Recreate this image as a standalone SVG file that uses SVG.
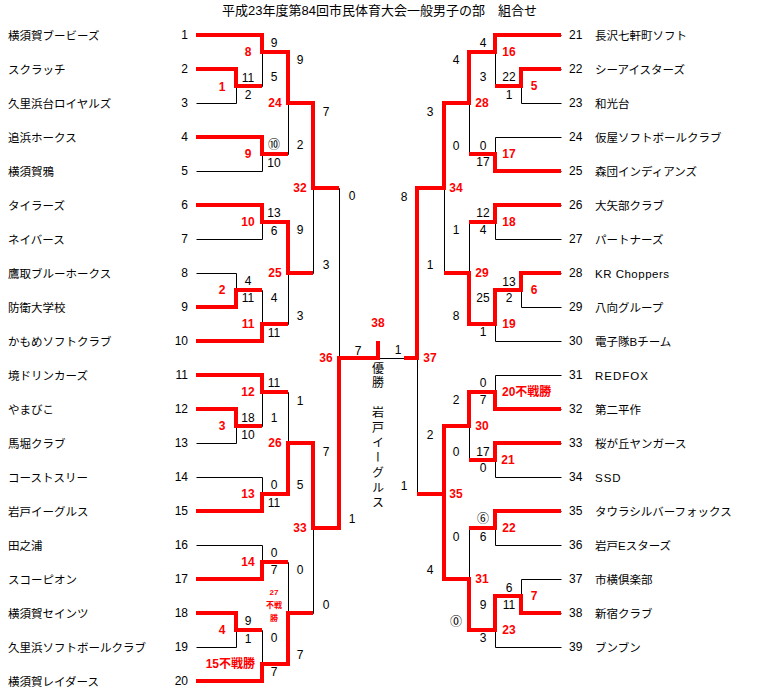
<svg xmlns="http://www.w3.org/2000/svg" width="757" height="699" viewBox="0 0 757 699">
<style>
.nm{font-family:"Liberation Sans","Noto Sans CJK JP",sans-serif;font-size:11.5px;fill:#000}
.nl{font-family:"Liberation Sans",sans-serif;font-size:12px;fill:#000;text-anchor:end}
.nr{font-family:"Liberation Sans",sans-serif;font-size:12px;fill:#000}
.s{font-family:"Liberation Sans","Noto Sans CJK JP",sans-serif;font-size:12px;fill:#000;text-anchor:middle}
.r{font-family:"Liberation Sans","Noto Sans CJK JP",sans-serif;font-size:12px;font-weight:bold;fill:#ff0000;text-anchor:middle}
.rs{font-family:"Liberation Sans","Noto Sans CJK JP",sans-serif;font-size:8px;font-weight:bold;fill:#ff0000;text-anchor:middle}
.b{stroke:#000;stroke-width:1;fill:none}
.w{stroke:#ff0000;stroke-width:4;fill:none;stroke-linejoin:miter}
.v{font-family:"Noto Sans CJK JP",sans-serif;font-size:12px;fill:#000;writing-mode:vertical-rl}
</style>
<rect width="757" height="699" fill="#fff"/>
<text x="222" y="15" style="font-family:'Liberation Sans','Noto Sans CJK JP',sans-serif;font-size:13px">平成23年度第84回市民体育大会一般男子の部　組合せ</text>

<g id="connectors">
<path class="b" transform="translate(0.5,0.5)" d="M196,35H262 M196,69H236 M196,103H236 M196,137H262 M196,171H262 M196,205H262 M196,239H262 M196,273H236 M196,307H236 M196,341H262 M196,375H262 M196,409H236 M196,443H236 M196,477H262 M196,511H262 M196,545H262 M196,579H262 M196,613H236 M196,647H236 M196,681H262
M236,69V103 M236,273V307 M236,409V443 M236,613V647
M236,86H262 M236,290H262 M236,426H262 M236,630H262
M262,35V86 M262,137V171 M262,205V239 M262,290V341 M262,375V426 M262,477V511 M262,545V579 M262,630V681
M262,52H288 M262,154H288 M262,222H288 M262,324H288 M262,392H288 M262,494H288 M262,562H288 M262,664H288
M288,52V154 M288,222V324 M288,392V494 M288,562V664
M288,103H313 M288,273H313 M288,443H313 M288,613H313
M313,103V273 M313,443V613
M313,188H339 M313,528H339
M339,188V528
M339,358H417
M495,35H561 M521,69H561 M521,103H561 M495,137H561 M495,171H561 M495,205H561 M495,239H561 M521,273H561 M521,307H561 M495,341H561 M495,375H561 M495,409H561 M495,443H561 M495,477H561 M495,511H561 M495,545H561 M521,579H561 M521,613H561 M495,647H561
M521,69V103 M521,273V307 M521,579V613
M495,86H521 M495,290H521 M495,596H521
M495,35V86 M495,137V171 M495,205V239 M495,290V341 M495,375V409 M495,443V477 M495,511V545 M495,596V647
M469,52H495 M469,154H495 M469,222H495 M469,324H495 M469,392H495 M469,460H495 M469,528H495 M469,630H495
M469,52V154 M469,222V324 M469,392V460 M469,528V630
M444,103H469 M444,273H469 M444,426H469 M444,579H469
M444,103V273 M444,426V579
M417,188H444 M417,494H444
M417,188V494"/>
<path class="w" d="M196,35H262V52H288V103H313V188H339"/>
<path class="w" d="M196,69H236V86H262"/>
<path class="w" d="M196,137H262V154H288"/>
<path class="w" d="M196,205H262V222H288V273H313"/>
<path class="w" d="M196,307H236V290H262"/>
<path class="w" d="M196,341H262V324H288"/>
<path class="w" d="M196,375H262V392H288"/>
<path class="w" d="M196,409H236V426H262"/>
<path class="w" d="M196,511H262V494H288V443H313V528H339V358H378V341"/>
<path class="w" d="M196,579H262V562H288"/>
<path class="w" d="M196,613H236V630H262"/>
<path class="w" d="M196,681H262V664H288V613H313"/>
<path class="w" d="M561,35H495V52H469V103H444V188H417V358H404"/>
<path class="w" d="M561,69H521V86H495"/>
<path class="w" d="M561,171H495V154H469"/>
<path class="w" d="M561,205H495V222H469"/>
<path class="w" d="M561,273H521V290H495V324H469V273H444"/>
<path class="w" d="M561,409H495V392H469V426H444V494"/>
<path class="w" d="M561,443H495V460H469"/>
<path class="w" d="M561,511H495V528H469"/>
<path class="w" d="M561,613H521V596H495V630H469V579H444V494H417"/>
</g>

<g id="team-1"><text class="nm" x="8" y="39.5">横須賀ブービーズ</text><text class="nl" x="188" y="39.3">1</text></g>
<g id="team-2"><text class="nm" x="8" y="73.5">スクラッチ</text><text class="nl" x="188" y="73.3">2</text></g>
<g id="team-3"><text class="nm" x="8" y="107.5">久里浜台ロイヤルズ</text><text class="nl" x="188" y="107.3">3</text></g>
<g id="team-4"><text class="nm" x="8" y="141.5">追浜ホークス</text><text class="nl" x="188" y="141.3">4</text></g>
<g id="team-5"><text class="nm" x="8" y="175.5">横須賀鴉</text><text class="nl" x="188" y="175.3">5</text></g>
<g id="team-6"><text class="nm" x="8" y="209.5">タイラーズ</text><text class="nl" x="188" y="209.3">6</text></g>
<g id="team-7"><text class="nm" x="8" y="243.5">ネイバース</text><text class="nl" x="188" y="243.3">7</text></g>
<g id="team-8"><text class="nm" x="8" y="277.5">鷹取ブルーホークス</text><text class="nl" x="188" y="277.3">8</text></g>
<g id="team-9"><text class="nm" x="8" y="311.5">防衛大学校</text><text class="nl" x="188" y="311.3">9</text></g>
<g id="team-10"><text class="nm" x="8" y="345.5">かもめソフトクラブ</text><text class="nl" x="188" y="345.3">10</text></g>
<g id="team-11"><text class="nm" x="8" y="379.5">境ドリンカーズ</text><text class="nl" x="188" y="379.3">11</text></g>
<g id="team-12"><text class="nm" x="8" y="413.5">やまびこ</text><text class="nl" x="188" y="413.3">12</text></g>
<g id="team-13"><text class="nm" x="8" y="447.5">馬堀クラブ</text><text class="nl" x="188" y="447.3">13</text></g>
<g id="team-14"><text class="nm" x="8" y="481.5">コーストスリー</text><text class="nl" x="188" y="481.3">14</text></g>
<g id="team-15"><text class="nm" x="8" y="515.5">岩戸イーグルス</text><text class="nl" x="188" y="515.3">15</text></g>
<g id="team-16"><text class="nm" x="8" y="549.5">田之浦</text><text class="nl" x="188" y="549.3">16</text></g>
<g id="team-17"><text class="nm" x="8" y="583.5">スコーピオン</text><text class="nl" x="188" y="583.3">17</text></g>
<g id="team-18"><text class="nm" x="8" y="617.5">横須賀セインツ</text><text class="nl" x="188" y="617.3">18</text></g>
<g id="team-19"><text class="nm" x="8" y="651.5">久里浜ソフトボールクラブ</text><text class="nl" x="188" y="651.3">19</text></g>
<g id="team-20"><text class="nm" x="8" y="685.5">横須賀レイダース</text><text class="nl" x="188" y="685.3">20</text></g>

<g id="team-21"><text class="nr" x="569" y="39.3">21</text><text class="nm" x="595" y="39.5">長沢七軒町ソフト</text></g>
<g id="team-22"><text class="nr" x="569" y="73.3">22</text><text class="nm" x="595" y="73.5">シーアイスターズ</text></g>
<g id="team-23"><text class="nr" x="569" y="107.3">23</text><text class="nm" x="595" y="107.5">和光台</text></g>
<g id="team-24"><text class="nr" x="569" y="141.3">24</text><text class="nm" x="595" y="141.5">仮屋ソフトボールクラブ</text></g>
<g id="team-25"><text class="nr" x="569" y="175.3">25</text><text class="nm" x="595" y="175.5">森団インディアンズ</text></g>
<g id="team-26"><text class="nr" x="569" y="209.3">26</text><text class="nm" x="595" y="209.5">大矢部クラブ</text></g>
<g id="team-27"><text class="nr" x="569" y="243.3">27</text><text class="nm" x="595" y="243.5">パートナーズ</text></g>
<g id="team-28"><text class="nr" x="569" y="277.3">28</text><text class="nm" x="595" y="277.5" style="letter-spacing:0.5px">KR Choppers</text></g>
<g id="team-29"><text class="nr" x="569" y="311.3">29</text><text class="nm" x="595" y="311.5">八向グループ</text></g>
<g id="team-30"><text class="nr" x="569" y="345.3">30</text><text class="nm" x="595" y="345.5">電子隊Bチーム</text></g>
<g id="team-31"><text class="nr" x="569" y="379.3">31</text><text class="nm" x="595" y="379.5" style="letter-spacing:1px">REDFOX</text></g>
<g id="team-32"><text class="nr" x="569" y="413.3">32</text><text class="nm" x="595" y="413.5">第二平作</text></g>
<g id="team-33"><text class="nr" x="569" y="447.3">33</text><text class="nm" x="595" y="447.5">桜が丘ヤンガース</text></g>
<g id="team-34"><text class="nr" x="569" y="481.3">34</text><text class="nm" x="595" y="481.5" style="letter-spacing:1px">SSD</text></g>
<g id="team-35"><text class="nr" x="569" y="515.3">35</text><text class="nm" x="595" y="515.5">タウラシルバーフォックス</text></g>
<g id="team-36"><text class="nr" x="569" y="549.3">36</text><text class="nm" x="595" y="549.5">岩戸Eスターズ</text></g>
<g id="team-37"><text class="nr" x="569" y="583.3">37</text><text class="nm" x="595" y="583.5">市横倶楽部</text></g>
<g id="team-38"><text class="nr" x="569" y="617.3">38</text><text class="nm" x="595" y="617.5">新宿クラブ</text></g>
<g id="team-39"><text class="nr" x="569" y="651.3">39</text><text class="nm" x="595" y="651.5">ブンブン</text></g>

<g id="scores">
<text class="s" x="274" y="47">9</text>
<text class="s" x="248" y="82">11</text>
<text class="s" x="274" y="81">5</text>
<text class="s" x="248" y="99">2</text>
<text class="s" x="300" y="64">9</text>
<text class="s" x="326" y="116">7</text>
<text class="s" x="274" y="149">⑩</text>
<text class="s" x="300" y="149">2</text>
<text class="s" x="274" y="167">10</text>
<text class="s" x="352" y="200">0</text>
<text class="s" x="274" y="217">13</text>
<text class="s" x="274" y="235">6</text>
<text class="s" x="300" y="234">9</text>
<text class="s" x="326" y="269">3</text>
<text class="s" x="248" y="285">4</text>
<text class="s" x="248" y="302">11</text>
<text class="s" x="274" y="302">4</text>
<text class="s" x="300" y="320">3</text>
<text class="s" x="274" y="337">11</text>
<text class="s" x="358" y="355">7</text>
<text class="s" x="274" y="387">11</text>
<text class="s" x="300" y="405">1</text>
<text class="s" x="248" y="422">18</text>
<text class="s" x="274" y="422">1</text>
<text class="s" x="248" y="439">10</text>
<text class="s" x="326" y="456">7</text>
<text class="s" x="274" y="489">0</text>
<text class="s" x="300" y="489">5</text>
<text class="s" x="274" y="507">11</text>
<text class="s" x="352" y="523">1</text>
<text class="s" x="274" y="557">0</text>
<text class="s" x="274" y="574">7</text>
<text class="s" x="300" y="574">0</text>
<text class="s" x="326" y="609">0</text>
<text class="s" x="248" y="625">9</text>
<text class="s" x="248" y="643">1</text>
<text class="s" x="274" y="642">0</text>
<text class="s" x="300" y="659">7</text>
<text class="s" x="274" y="676">7</text>

<text class="s" x="483" y="47">4</text>
<text class="s" x="483" y="81">3</text>
<text class="s" x="509" y="81">22</text>
<text class="s" x="509" y="99">1</text>
<text class="s" x="456" y="64">4</text>
<text class="s" x="430" y="116">3</text>
<text class="s" x="456" y="150">0</text>
<text class="s" x="483" y="150">0</text>
<text class="s" x="483" y="166">17</text>
<text class="s" x="404" y="201">8</text>
<text class="s" x="483" y="217">12</text>
<text class="s" x="456" y="234">1</text>
<text class="s" x="483" y="234">4</text>
<text class="s" x="430" y="269">1</text>
<text class="s" x="509" y="286">13</text>
<text class="s" x="483" y="302">25</text>
<text class="s" x="509" y="302">2</text>
<text class="s" x="456" y="320">8</text>
<text class="s" x="483" y="336">1</text>
<text class="s" x="398" y="354">1</text>
<text class="s" x="483" y="387">0</text>
<text class="s" x="456" y="404">2</text>
<text class="s" x="483" y="404">7</text>
<text class="s" x="430" y="439">2</text>
<text class="s" x="456" y="456">0</text>
<text class="s" x="483" y="456">17</text>
<text class="s" x="483" y="472">0</text>
<text class="s" x="404" y="490">1</text>
<text class="s" x="483" y="523">⑥</text>
<text class="s" x="456" y="541">0</text>
<text class="s" x="483" y="541">6</text>
<text class="s" x="430" y="574">4</text>
<text class="s" x="509" y="592">6</text>
<text class="s" x="483" y="609">9</text>
<text class="s" x="509" y="609">11</text>
<text class="s" x="456" y="626">⓪</text>
<text class="s" x="483" y="642">3</text>
</g>

<g id="match-labels">
<text class="r" x="248" y="56">8</text>
<text class="r" x="222" y="91">1</text>
<text class="r" x="275" y="107">24</text>
<text class="r" x="248" y="158">9</text>
<text class="r" x="300" y="192">32</text>
<text class="r" x="248" y="226">10</text>
<text class="r" x="275" y="277">25</text>
<text class="r" x="222" y="294">2</text>
<text class="r" x="248" y="328">11</text>
<text class="r" x="326" y="362">36</text>
<text class="r" x="378" y="327">38</text>
<text class="r" x="248" y="396">12</text>
<text class="r" x="222" y="430">3</text>
<text class="r" x="275" y="447">26</text>
<text class="r" x="248" y="498">13</text>
<text class="r" x="300" y="532">33</text>
<text class="r" x="248" y="566">14</text>
<text class="r" x="222" y="634">4</text>
<text class="r" x="255" y="668" style="text-anchor:end">15不戦勝</text>
<text class="rs" x="274" y="595">27</text>
<text class="rs" x="274" y="608">不戦</text>
<text class="rs" x="274" y="621">勝</text>

<text class="r" x="509" y="56">16</text>
<text class="r" x="534" y="90">5</text>
<text class="r" x="482" y="107">28</text>
<text class="r" x="509" y="158">17</text>
<text class="r" x="456" y="192">34</text>
<text class="r" x="509" y="226">18</text>
<text class="r" x="482" y="277">29</text>
<text class="r" x="534" y="294">6</text>
<text class="r" x="509" y="328">19</text>
<text class="r" x="430" y="362">37</text>
<text class="r" x="502" y="396" style="text-anchor:start">20不戦勝</text>
<text class="r" x="482" y="430">30</text>
<text class="r" x="508" y="464">21</text>
<text class="r" x="456" y="498">35</text>
<text class="r" x="509" y="532">22</text>
<text class="r" x="482" y="583">31</text>
<text class="r" x="534" y="600">7</text>
<text class="r" x="509" y="634">23</text>
</g>

<g id="champion">
<text class="v" x="378" y="362" style="letter-spacing:2.5px">優勝</text>
<text class="v" x="378" y="406" style="letter-spacing:3px">岩戸イーグルス</text>
</g>
</svg>
